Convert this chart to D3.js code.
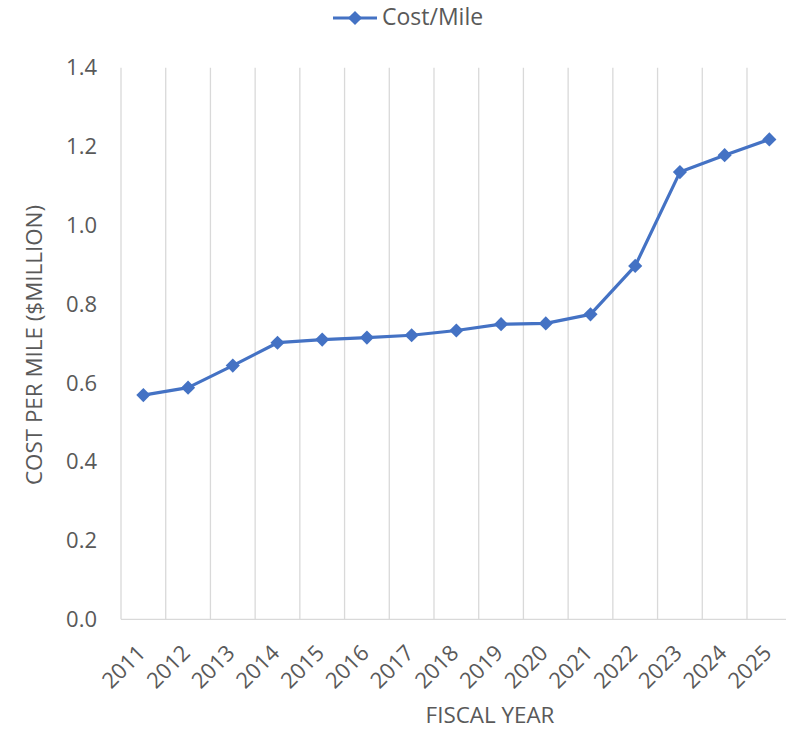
<!DOCTYPE html>
<html><head><meta charset="utf-8">
<script src="https://cdn.jsdelivr.net/npm/d3@7/dist/d3.min.js"></script>
<style>body{margin:0;background:#fff;} text{font-family:"Open Sans",sans-serif;fill:#595959;}</style>
</head><body><svg id="c" width="786" height="731"></svg>
<script>
const years = ["2011","2012","2013","2014","2015","2016","2017","2018","2019","2020","2021","2022","2023","2024","2025"];
const costPerMile = [0.569,0.588,0.644,0.702,0.710,0.715,0.721,0.733,0.749,0.751,0.774,0.897,1.135,1.178,1.218];
const yTicks = [0,0.2,0.4,0.6,0.8,1.0,1.2,1.4];
const seriesName = "Cost/Mile";

(function(){
const svg = d3.select("#c");
const pL = 121, pR = 791.7, pT = 67.7, pB = 619.3;
const x = d3.scaleBand().domain(years).range([pL, pR]);
const y = d3.scaleLinear().domain([0,1.4]).range([pB, pT]);
const color = "#4472C4";

const bounds = years.map(d => x(d)).concat([pR]);
svg.append("g").selectAll("line").data(bounds).join("line")
  .attr("x1", d => d).attr("x2", d => d).attr("y1", pT).attr("y2", pB)
  .attr("stroke", "#d9d9d9").attr("stroke-width", 1.3);
svg.append("line").attr("x1", pL).attr("x2", pR).attr("y1", pB).attr("y2", pB)
  .attr("stroke", "#d9d9d9").attr("stroke-width", 1.3);

svg.append("g").selectAll("text").data(yTicks).join("text")
  .attr("x", 97).attr("y", d => y(d)).attr("dy", "0.35em").attr("text-anchor", "end")
  .attr("font-size", 22).text(d => d.toFixed(1));

svg.append("g").selectAll("text").data(years).join("text")
  .attr("transform", d => `translate(${x(d) + x.bandwidth()/2 - 2},${pB + 29.5}) rotate(-45)`)
  .attr("text-anchor", "end").attr("dy", "0.35em").attr("font-size", 22).text(d => d);

svg.append("text").attr("x", 490).attr("y", 723).attr("text-anchor", "middle")
  .attr("font-size", 22.4).text("FISCAL YEAR");
svg.append("text").attr("transform", `translate(42,345) rotate(-90)`)
  .attr("text-anchor", "middle").attr("font-size", 22.4).text("COST PER MILE ($MILLION)");

const line = d3.line().x((d,i) => x(years[i]) + x.bandwidth()/2).y(d => y(d));
svg.append("path").datum(costPerMile).attr("d", line).attr("fill", "none")
  .attr("stroke", color).attr("stroke-width", 3.2).attr("stroke-linejoin", "round");
svg.append("g").selectAll("path").data(costPerMile).join("path")
  .attr("transform", (d,i) => `translate(${x(years[i]) + x.bandwidth()/2},${y(d)}) rotate(45)`)
  .attr("d", d3.symbol().type(d3.symbolSquare).size(100)).attr("fill", color);

const lg = svg.append("g");
lg.append("line").attr("x1", 333).attr("x2", 377).attr("y1", 18).attr("y2", 18)
  .attr("stroke", color).attr("stroke-width", 3.2);
lg.append("path").attr("transform", "translate(355,18) rotate(45)")
  .attr("d", d3.symbol().type(d3.symbolSquare).size(100)).attr("fill", color);
lg.append("text").attr("x", 382).attr("y", 17).attr("dy", "0.35em").attr("font-size", 23).text(seriesName);
})();
</script></body></html>
